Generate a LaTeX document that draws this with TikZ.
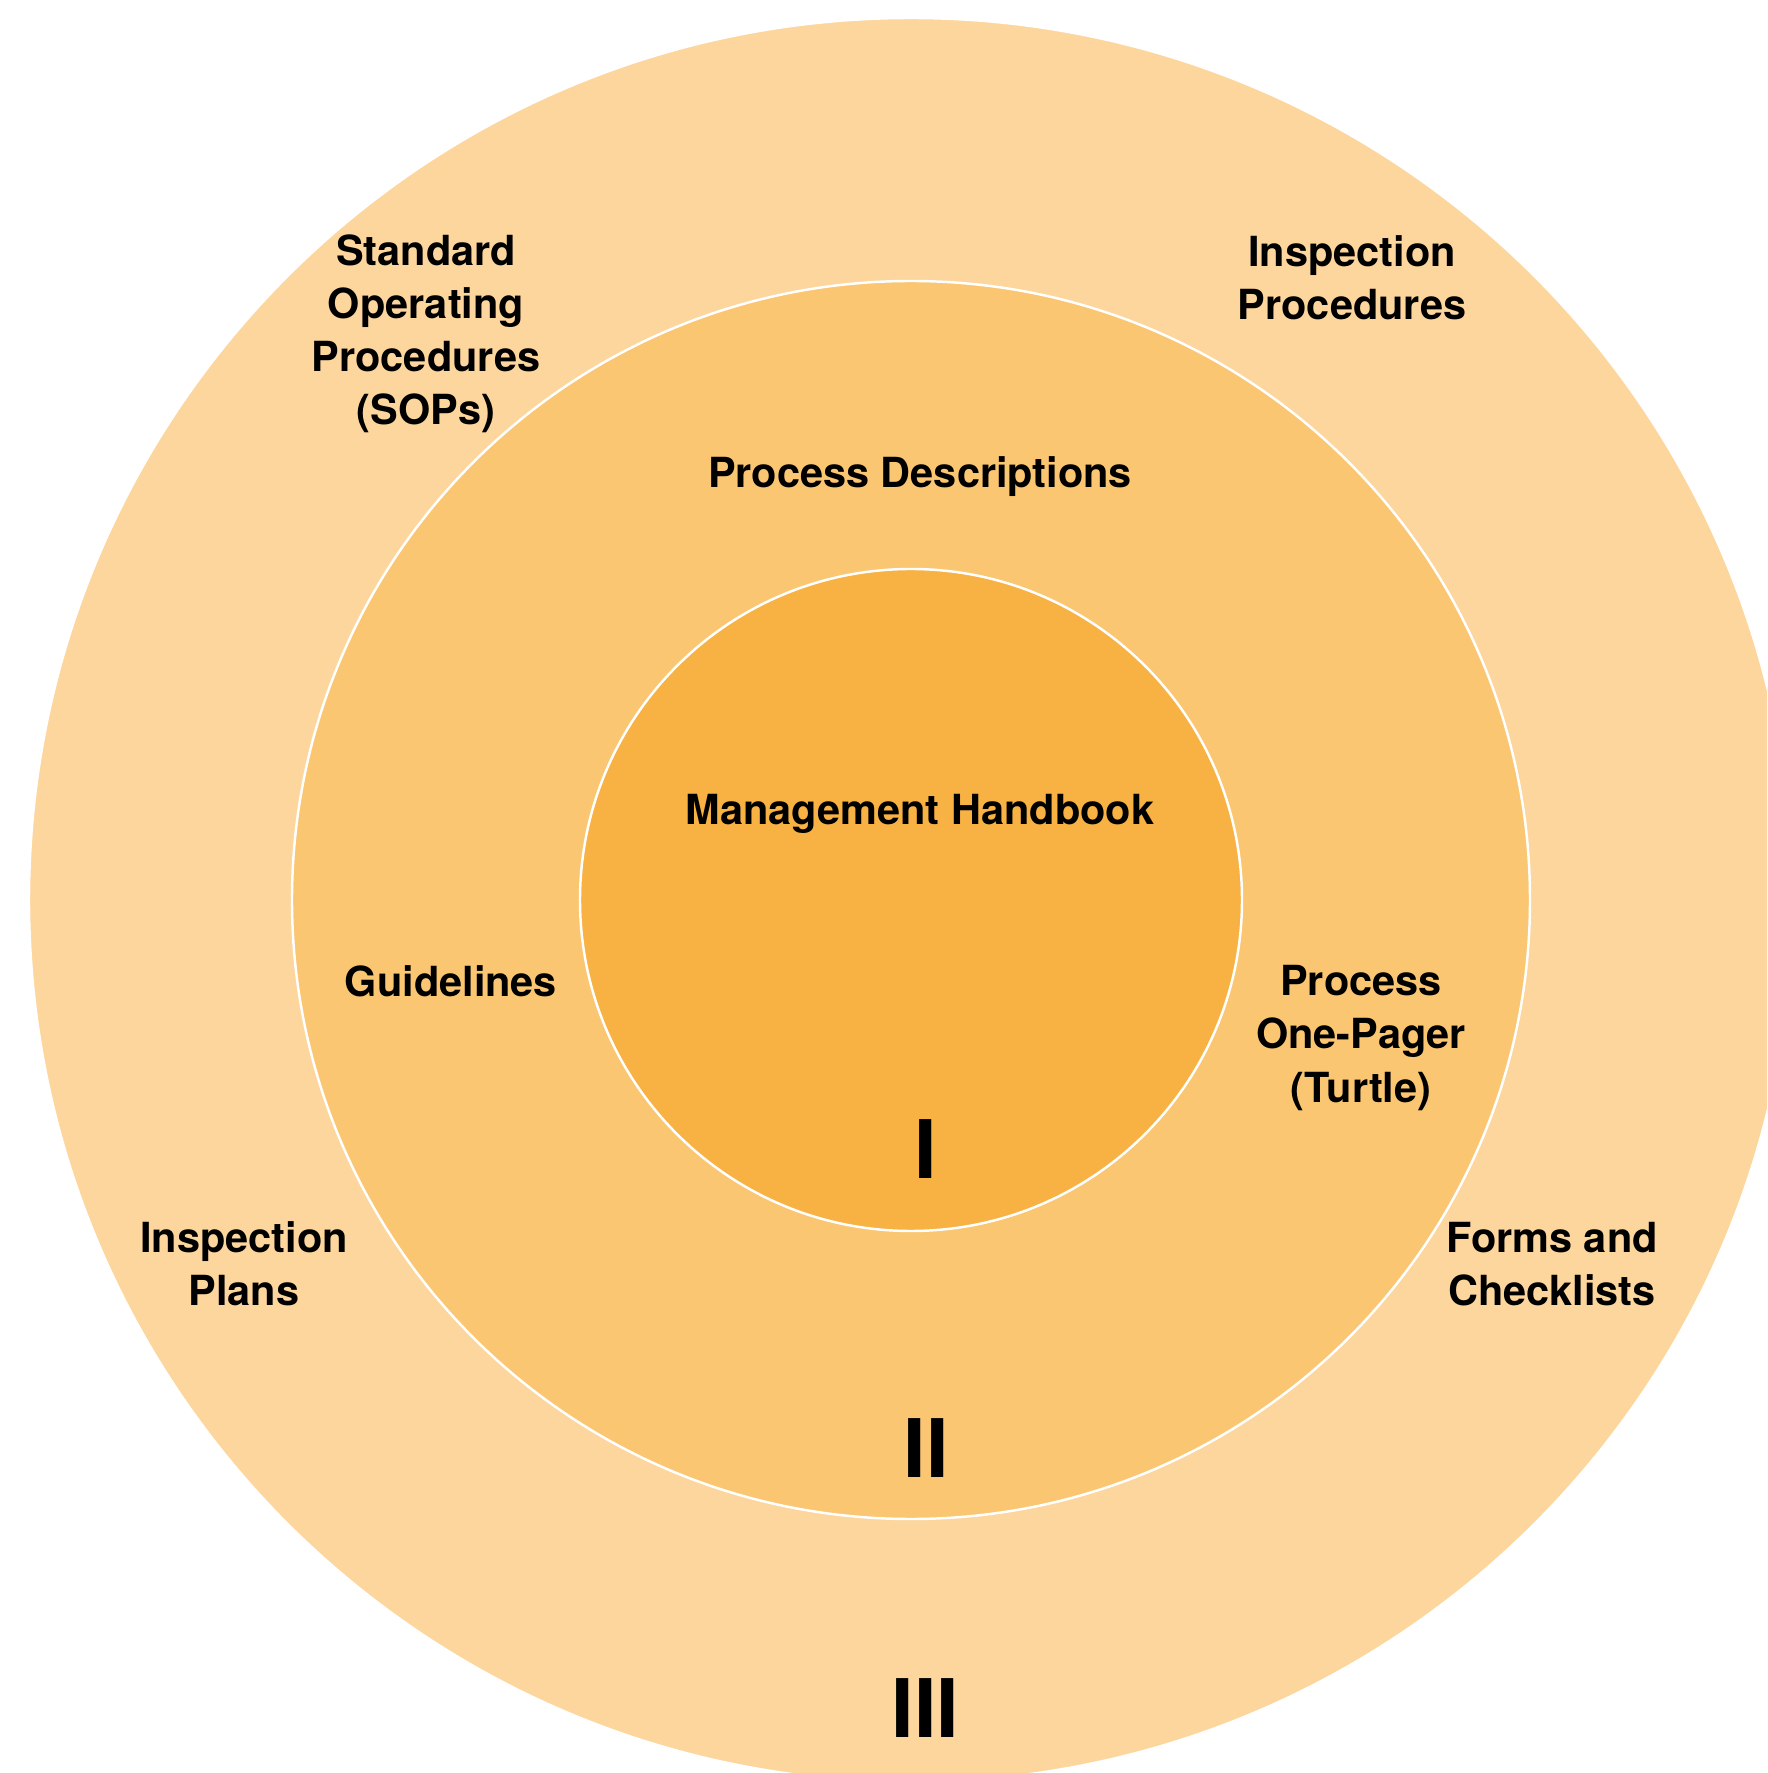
\documentclass[tikz,border=0pt]{standalone}
\usepackage{fontspec}
\setmainfont{TeX Gyre Heros}
\usetikzlibrary{positioning}

\definecolor{outerring}{HTML}{FDD69D}
\definecolor{midring}{HTML}{FBC672}
\definecolor{innerring}{HTML}{F8B143}

\begin{document}
\begin{tikzpicture}[
    ring/.style={circle, draw=white, line width=0.7pt, inner sep=0pt},
    doctext/.style={align=center, font=\fontsize{11.8}{15.1}\selectfont\bfseries},
    numeral/.style={font=\fontsize{23}{27}\selectfont\bfseries}
]

% Page frame
\clip (-9.11,-8.73) rectangle (8.56,9.00);

% Define the three levels
\node[ring, fill=outerring, minimum size=17.64cm] (L3) at (0,0) {};
\node[ring, fill=midring, minimum size=12.38cm] (L2) at (0,0) {};
\node[ring, fill=innerring, minimum size=6.62cm] (L1) at (0,0) {};

% Level I
\node[doctext] (handbook) at (0.09, 0.86) {Management Handbook};
\node[numeral] (n1) at (0.15, -2.49) {I};

% Level II
\node[doctext] (descr) at (0.09, 4.23) {Process Descriptions};
\node[doctext] (guide) at (-4.60, -0.81) {Guidelines};
\node[doctext] (turtle) at (4.50, -1.38) {Process\\One-Pager\\(Turtle)};
\node[numeral] (n2) at (0.15, -5.48) {II};

% Level III
\node[doctext] (sops) at (-4.85, 5.66) {Standard\\Operating\\Procedures\\(SOPs)};
\node[doctext] (insproc) at (4.41, 6.22) {Inspection\\Procedures};
\node[doctext] (insplan) at (-6.67, -3.64) {Inspection\\Plans};
\node[doctext] (forms) at (6.41, -3.64) {Forms and\\Checklists};
\node[numeral] (n3) at (0.145, -8.08) {III};

\end{tikzpicture}
\end{document}
